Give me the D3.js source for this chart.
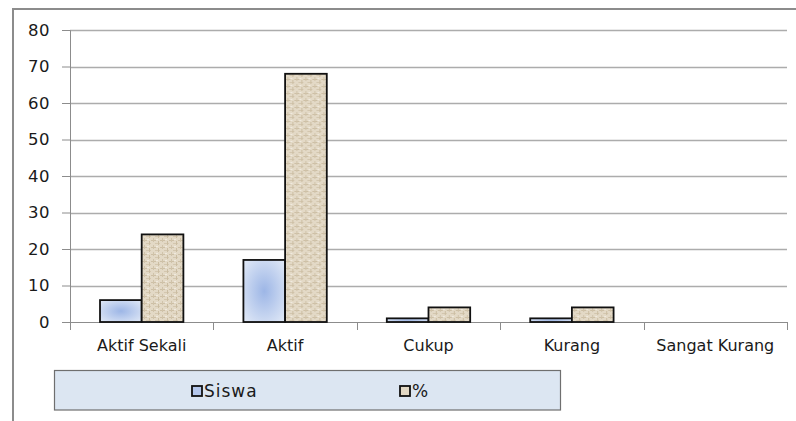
<!DOCTYPE html>
<html>
<head>
<meta charset="utf-8">
<script src="https://cdn.jsdelivr.net/npm/d3@7"></script>
<style>
  body { margin: 0; background: #fff; }
  svg text { font-family: "DejaVu Sans", sans-serif; fill: #1a1a1a; }
</style>
</head>
<body>
<svg id="chart" width="796" height="421"></svg>
<script>
// data
var categories = ["Aktif Sekali", "Aktif", "Cukup", "Kurang", "Sangat Kurang"];
var siswa = [6, 17, 1, 1, 0];
var persen = [24, 68, 4, 4, 0];
var seriesNames = ["Siswa", "%"];
var yTicks = [0, 10, 20, 30, 40, 50, 60, 70, 80];

var width = 796, height = 421;
var plot = {left: 70, right: 787, top: 30, bottom: 322};

var svg = d3.select("#chart");
var defs = svg.append("defs");

// fill for Siswa: soft blue radial
var rg = defs.append("radialGradient").attr("id", "blueFill").attr("cx", "50%").attr("cy", "50%").attr("r", "70%");
rg.append("stop").attr("offset", "0%").attr("stop-color", "#9db6e6");
rg.append("stop").attr("offset", "100%").attr("stop-color", "#e2eaf7");

// fill for %: burlap-ish texture
var pat = defs.append("pattern").attr("id", "burlap").attr("patternUnits", "userSpaceOnUse")
  .attr("width", 9).attr("height", 7);
pat.append("rect").attr("width", 9).attr("height", 7).attr("fill", "#e3d9c6");
pat.append("rect").attr("x", 0).attr("y", 2).attr("width", 5).attr("height", 1).attr("fill", "#cdbfa5");
pat.append("rect").attr("x", 4).attr("y", 5).attr("width", 5).attr("height", 1).attr("fill", "#d3c6ae");
pat.append("rect").attr("x", 2).attr("y", 0).attr("width", 1).attr("height", 4).attr("fill", "#d0c3aa");
pat.append("rect").attr("x", 7).attr("y", 3).attr("width", 1).attr("height", 4).attr("fill", "#cbbda2");
pat.append("rect").attr("x", 5).attr("y", 1).attr("width", 2).attr("height", 1).attr("fill", "#f0eadf");

// outer chart border
svg.append("rect").attr("x", 13).attr("y", 9).attr("width", 800).attr("height", 430)
  .attr("fill", "#fff").attr("stroke", "#8c8c8c").attr("stroke-width", 2);

// scales
var x0 = d3.scaleBand().domain(categories).range([plot.left, plot.right]).paddingInner(0).paddingOuter(0);
var x1 = d3.scaleBand().domain(seriesNames).range([0, x0.bandwidth()]).paddingInner(0).paddingOuter(0.72);
var y = d3.scaleLinear().domain([0, 80]).range([plot.bottom, plot.top]);

// gridlines
svg.append("g").selectAll("line").data(yTicks.slice(1)).enter().append("line")
  .attr("x1", plot.left).attr("x2", plot.right)
  .attr("y1", d => Math.round(y(d)) + 0.5).attr("y2", d => Math.round(y(d)) + 0.5)
  .attr("stroke", "#acacac").attr("stroke-width", 1.3);

// y axis
var yAxis = d3.axisLeft(y).tickValues(yTicks).tickSize(8).tickPadding(12);
var gy = svg.append("g").attr("transform", "translate(" + plot.left + ",0)").call(yAxis);
gy.select(".domain").attr("stroke", "#8c8c8c");
gy.selectAll(".tick line").attr("stroke", "#8c8c8c");
gy.selectAll("text").attr("font-size", 16.5).attr("fill", "#1a1a1a")
  .style("font-family", "DejaVu Sans, sans-serif").style("letter-spacing", "0.5px");

// x axis
var xAxis = d3.axisBottom(x0).tickSize(0).tickPadding(17.5);
var gx = svg.append("g").attr("transform", "translate(0," + plot.bottom + ")").call(xAxis);
gx.select(".domain").attr("stroke", "#8c8c8c");
gx.selectAll("text").attr("font-size", 16).attr("fill", "#1a1a1a")
  .style("font-family", "DejaVu Sans, sans-serif");
// category boundary ticks
gx.selectAll(".sep").data(d3.range(categories.length + 1)).enter().append("line")
  .attr("x1", d => Math.round(plot.left + d * x0.step()) + 0.5)
  .attr("x2", d => Math.round(plot.left + d * x0.step()) + 0.5)
  .attr("y1", 0).attr("y2", 8).attr("stroke", "#8c8c8c");

// bars
var groups = svg.append("g").selectAll("g").data(categories).enter().append("g")
  .attr("transform", d => "translate(" + x0(d) + ",0)");
groups.selectAll("rect").data((d, i) => [
    {key: "Siswa", value: siswa[i]},
    {key: "%", value: persen[i]}
  ]).enter().append("rect")
  .filter(d => d.value > 0)
  .attr("x", d => x1(d.key))
  .attr("width", x1.bandwidth())
  .attr("y", d => y(d.value))
  .attr("height", d => y(0) - y(d.value))
  .attr("fill", d => d.key === "Siswa" ? "url(#blueFill)" : "url(#burlap)")
  .attr("stroke", "#111").attr("stroke-width", 1.8);

// legend
var lg = svg.append("g");
lg.append("rect").attr("x", 54.5).attr("y", 370.5).attr("width", 506).attr("height", 39.5)
  .attr("fill", "#dce6f2").attr("stroke", "#6f6f6f").attr("stroke-width", 1.2);
var legendX = [192, 400];
seriesNames.forEach(function(name, i) {
  lg.append("rect").attr("x", legendX[i]).attr("y", 386).attr("width", 10).attr("height", 10)
    .attr("fill", i === 0 ? "#b4c7ec" : "#e2d8c4").attr("stroke", "#111").attr("stroke-width", 1.8);
  lg.append("text").attr("x", legendX[i] + 12).attr("y", 396.5).attr("font-size", 17)
    .style("letter-spacing", "1px").text(name);
});
</script>
</body>
</html>
